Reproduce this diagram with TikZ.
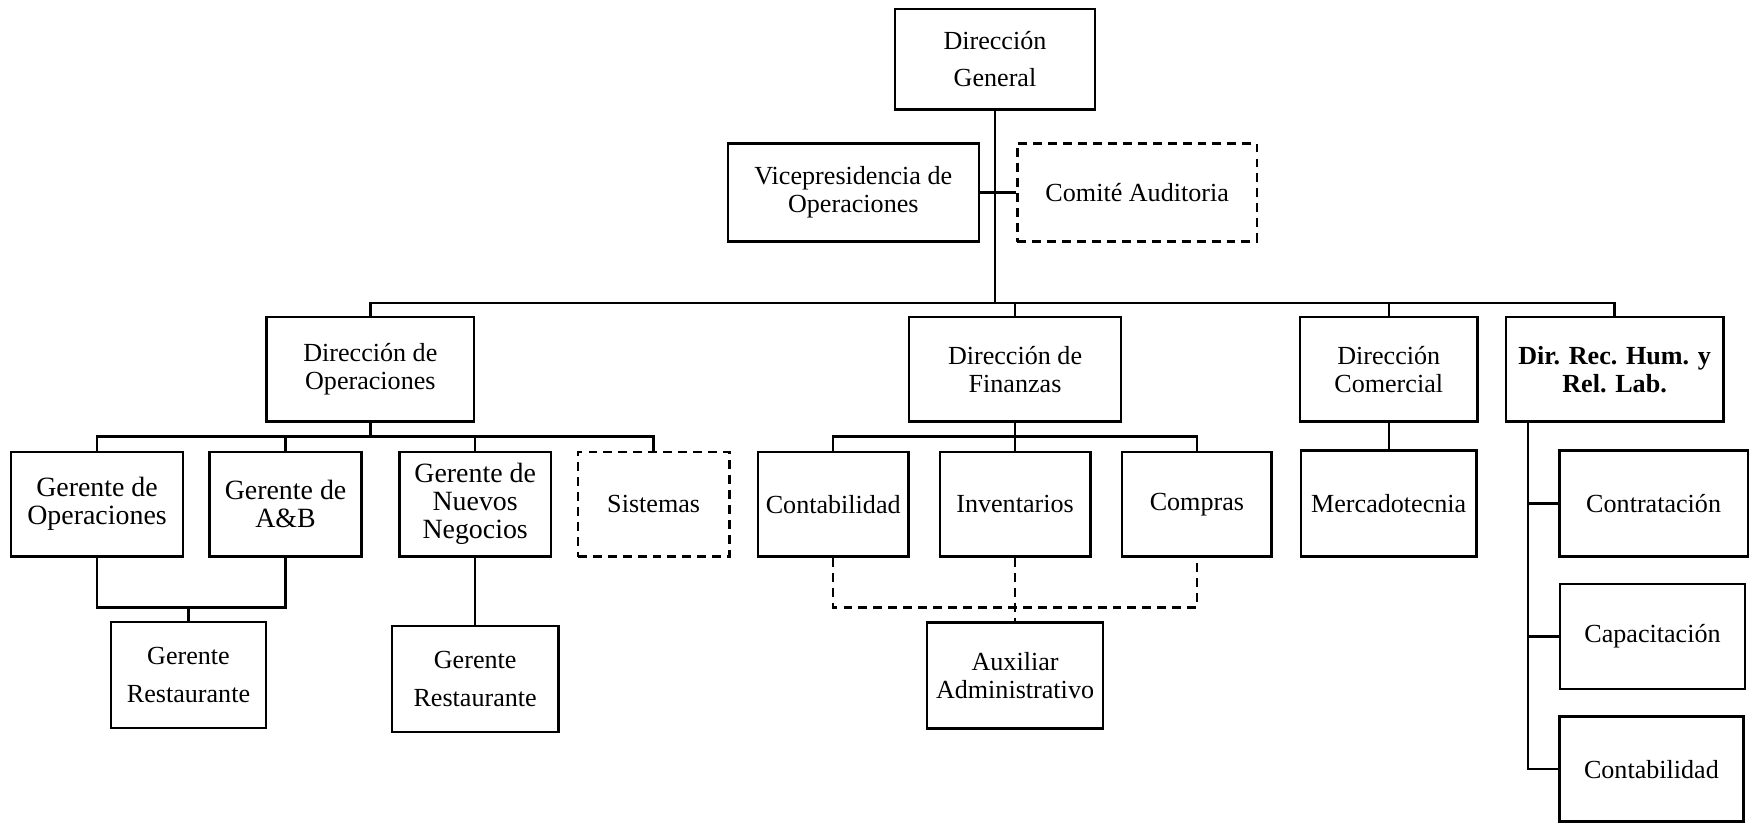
\documentclass[tikz,border=0pt]{standalone}
\usepackage{fontspec}
\setmainfont{Liberation Serif}
\usetikzlibrary{positioning,calc}

\begin{document}
\begin{tikzpicture}[
  x=0.5pt, y=-0.5pt,
  caja/.style 2 args={draw, line width=1.1pt, align=center, inner sep=2pt,
    minimum width=#1, minimum height=#2, font=\fontsize{11.7}{12.5}\selectfont},
  ancha/.style={font=\fontsize{11.7}{16.8}\selectfont},
  gerente/.style={font=\fontsize{12.5}{12.5}\selectfont},
  punteada/.style={dash pattern=on 4pt off 2.7pt},
  linea/.style={line width=1.1pt}
]
  \useasboundingbox (0,0) rectangle (1568,741);

  \node[caja={89.5pt}{45pt}, ancha] (dg) at (892,53) {Dirección\\General};
  \node[caja={112.5pt}{44pt}] (vice) at (765,172.5) {Vicepresidencia de\\Operaciones};
  \node[caja={107.5pt}{44pt}, punteada] (comite) at (1019.5,172.5) {Comité Auditoria};

  \node[caja={93pt}{47pt}] (dop) at (332,331) {Dirección de\\Operaciones};
  \node[caja={95pt}{47pt}] (dfin) at (910,331) {Dirección de\\Finanzas};
  \node[caja={79.5pt}{47pt}] (dcom) at (1245,331) {Dirección\\Comercial};
  \node[caja={97.5pt}{47pt}, font=\fontsize{11.7}{12.5}\selectfont\bfseries] (drh) at (1447.5,331) {Dir. Rec. Hum. y\\Rel. Lab.};

  \node[caja={77pt}{47pt}, gerente] (gop) at (87,452) {Gerente de\\Operaciones};
  \node[caja={68pt}{47pt}, gerente] (gab) at (256,452) {Gerente de\\A\&B};
  \node[caja={68pt}{47pt}, gerente] (gnn) at (426,452) {Gerente de\\Nuevos\\Negocios};
  \node[caja={68pt}{47pt}, punteada] (sis) at (586,452) {Sistemas};
  \node[caja={69.5pt}{47.5pt}, ancha] (gr1) at (169,605) {Gerente\\Restaurante};
  \node[caja={74.5pt}{47.5pt}, ancha] (gr2) at (426,608.5) {Gerente\\Restaurante};

  \node[caja={67.5pt}{47pt}] (cont) at (747,452) {Contabilidad};
  \node[caja={67.5pt}{47pt}] (inv) at (910,452) {Inventarios};
  \node[caja={67pt}{47pt}] (comp) at (1073,452) {Compras};
  \node[caja={79pt}{47.5pt}] (aux) at (910,605.5) {Auxiliar\\Administrativo};

  \node[caja={78.5pt}{47.5pt}] (merc) at (1245,451.5) {Mercadotecnia};
  \node[caja={84.5pt}{47.5pt}] (contr) at (1482.5,451.5) {Contratación};
  \node[caja={83pt}{47pt}] (capa) at (1481.5,570.5) {Capacitación};
  \node[caja={82.5pt}{47pt}] (conta) at (1480.5,689.5) {Contabilidad};

  \coordinate (nivel1) at (0,271.5);
  \coordinate (nivel2) at (0,391.5);
  \coordinate (nivel3) at (0,544.5);
  \coordinate (eje) at (1370,0);

  \draw[linea] (dg.south) -- (dg.south |- nivel1);
  \draw[linea] (vice.east) -- (comite.west);
  \draw[linea] (dop.north) |- (drh.north |- nivel1) -- (drh.north);
  \draw[linea] (dfin.north) -- (dfin.north |- nivel1);
  \draw[linea] (dcom.north) -- (dcom.north |- nivel1);

  \draw[linea] (dop.south) -- (dop.south |- nivel2);
  \draw[linea] (gop.north) |- (sis.north |- nivel2) -- (sis.north);
  \draw[linea] (gab.north) -- (gab.north |- nivel2);
  \draw[linea] (gnn.north) -- (gnn.north |- nivel2);
  \draw[linea] (gop.south) |- (gab.south |- nivel3) -- (gab.south);
  \draw[linea] (gr1.north) -- (gr1.north |- nivel3);
  \draw[linea] (gnn.south) -- (gr2.north);

  \draw[linea] (dfin.south) -- (dfin.south |- nivel2);
  \draw[linea] (cont.north) |- (comp.north |- nivel2) -- (comp.north);
  \draw[linea] (inv.north) -- (inv.north |- nivel2);
  \draw[linea, punteada] (cont.south) |- (comp.south |- nivel3) -- (comp.south);
  \draw[linea, punteada] (inv.south) -- (aux.north);

  \draw[linea] (dcom.south) -- (merc.north);
  \draw[linea] (eje |- drh.south) |- (conta.west);
  \draw[linea] (eje |- contr.west) -- (contr.west);
  \draw[linea] (eje |- capa.west) -- (capa.west);
\end{tikzpicture}
\end{document}
